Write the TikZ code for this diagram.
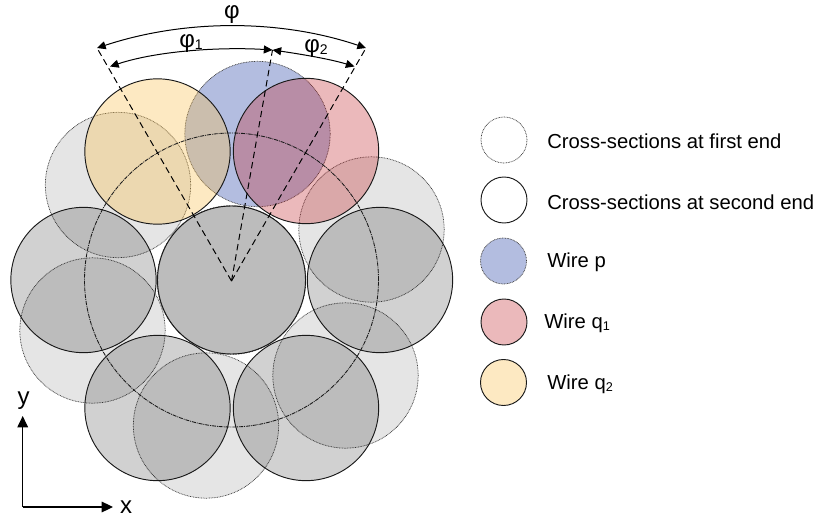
\documentclass[tikz,border=0pt]{standalone}
\usepackage{fontspec}
\setmainfont{Liberation Sans}
\usetikzlibrary{arrows.meta}
\definecolor{wp}{RGB}{65,90,178}
\definecolor{wqa}{RGB}{194,43,48}
\definecolor{wqb}{RGB}{250,191,75}
\tikzset{
  x=0.75pt,y=-0.75pt,
  disc/.style={circle,inner sep=0pt,outer sep=0pt,minimum size=109pt},
  firstend/.style={disc,draw=black!75,line width=0.55pt,dash pattern=on 0.6pt off 0.6pt,fill=black,fill opacity=0.1},
  secondend/.style={disc,draw=black!90,line width=0.7pt,fill=black,fill opacity=0.18},
  wirep/.style={disc,draw=black!75,line width=0.55pt,dash pattern=on 0.6pt off 0.6pt,fill=wp,fill opacity=0.4},
  wireqa/.style={disc,draw=black!90,line width=0.7pt,fill=wqa,fill opacity=0.33},
  wireqb/.style={disc,draw=black!90,line width=0.7pt,fill=wqb,fill opacity=0.34},
  keysize/.style={minimum size=34.5pt},
  dimline/.style={line width=0.75pt,{Triangle[length=6.5pt,width=6pt]}-{Triangle[length=6.5pt,width=6pt]}},
  radial/.style={line width=0.75pt,dash pattern=on 4.8pt off 3pt},
  axis/.style={line width=0.8pt,-{Triangle[length=8.5pt,width=8pt]}},
  label/.style={inner sep=0pt,font=\fontsize{15.2}{18}\selectfont},
  anglelabel/.style={inner sep=0pt,font=\fontsize{18}{20}\selectfont},
  axislabel/.style={inner sep=0pt,font=\fontsize{18}{20}\selectfont},
  keytext/.style={label,anchor=west},
}
\newcommand{\smallsub}[1]{\raisebox{-1pt}{\fontsize{9.5}{10}\selectfont #1}}
\newcommand{\anglesub}[1]{\raisebox{-1.5pt}{\fontsize{10.5}{11}\selectfont #1}}
\begin{document}
\begin{tikzpicture}
\useasboundingbox (0,0) rectangle (814,517);
% first-end cross-sections
\node[firstend] (f1) at (118,185) {};
\node[firstend] (f2) at (371.5,229.5) {};
\node[firstend] (f3) at (92.5,330.5) {};
\node[firstend] (f4) at (206,425.5) {};
\node[firstend] (f5) at (345.5,375.5) {};
\node[firstend,minimum size=111.5pt] (f0) at (231.5,280) {};
% second-end cross-sections
\node[secondend] (s1) at (83.5,280) {};
\node[secondend] (s2) at (380,280) {};
\node[secondend] (s3) at (157.5,408) {};
\node[secondend] (s4) at (306,408) {};
\node[secondend,minimum size=111pt] (s0) at (231.5,280) {};
% wires
\node[wirep] (p) at (257.5,134) {};
\node[wireqb] (q2) at (157.5,151.5) {};
\node[wireqa] (q1) at (306,151) {};
% pitch circle
\node[circle,inner sep=0pt,minimum size=220.5pt,draw=black!90,line width=0.65pt,dash pattern=on 3pt off 0.7pt on 0.7pt off 0.7pt] (pitch) at (231.5,280) {};
% angle construction
\coordinate (o) at (231.5,281);
\coordinate (a) at (97,48);
\coordinate (b) at (272.5,50);
\coordinate (c) at (366,48);
\coordinate (a1) at (110,66.5);
\coordinate (c1) at (354.5,66.5);
\draw[radial] (o) -- (a);
\draw[radial] (o) -- (b);
\draw[radial] (o) -- (c);
\draw[dimline] (a) .. controls (185,19) and (280,19) .. (c);
\draw[dimline] (a1) .. controls (160,50) and (225,47) .. (b);
\draw[dimline] (b) .. controls (300,54) and (330,59) .. (c1);
\node[anglelabel] (phi) at (232,14.5) {φ};
\node[anglelabel] (phia) at (191,43.5) {φ\anglesub{1}};
\node[anglelabel] (phib) at (316,49) {φ\anglesub{2}};
% axes
\coordinate (origin) at (22.7,507);
\coordinate (ytip) at (22.7,416);
\coordinate (xtip) at (113,507);
\draw[axis] (origin) -- (ytip);
\draw[axis] (origin) -- (xtip);
\node[axislabel] (ylab) at (23.5,401) {y};
\node[axislabel] (xlab) at (126,507) {x};
% legend
\node[firstend,keysize,fill opacity=0] (k1) at (504,140) {};
\node[secondend,keysize,fill opacity=0] (k2) at (504,200) {};
\node[wirep,keysize] (k3) at (503.5,261) {};
\node[wireqa,keysize] (k4) at (504,322) {};
\node[wireqb,keysize] (k5) at (503.5,382.5) {};
\node[keytext] (t1) at (547,141) {Cross-sections at first end};
\node[keytext] (t2) at (547,202) {Cross-sections at second end};
\node[keytext] (t3) at (547,262.5) {Wire p};
\node[keytext] (t4) at (544,323.5) {Wire q\smallsub{1}};
\node[keytext] (t5) at (547,384.5) {Wire q\smallsub{2}};
\end{tikzpicture}
\end{document}
